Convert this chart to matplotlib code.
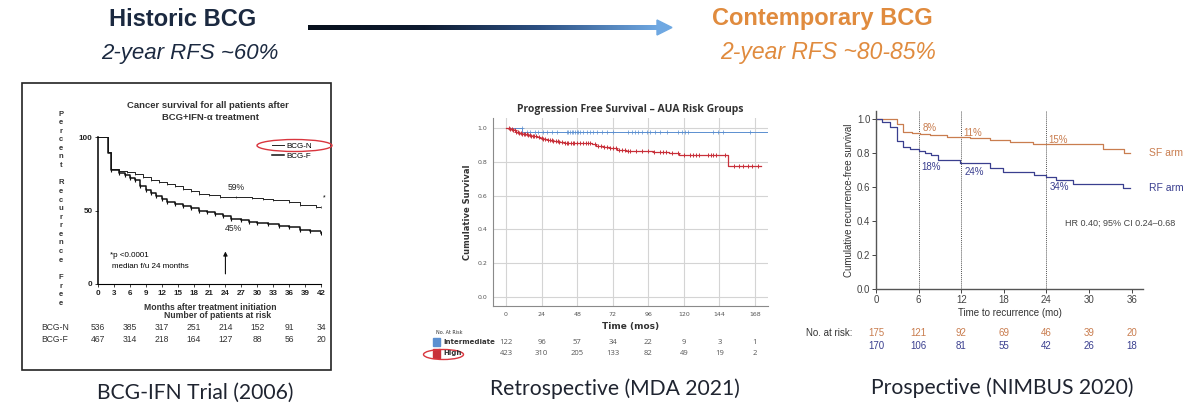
import numpy as np
import matplotlib.pyplot as plt
import matplotlib.transforms as mtransforms
from matplotlib.patches import Ellipse, Rectangle, Polygon
from matplotlib.colors import LinearSegmentedColormap

# ---------------- data ----------------
# BCG-IFN trial (months, percent recurrence free)
bcgn_t = [0, 1.8, 2.5, 4, 5.5, 7, 8.5, 10, 11.5, 13, 14.5, 16, 17.5, 19, 21, 23, 26, 29, 31, 33, 36, 38, 41, 42]
bcgn_s = [100, 90, 78, 77, 76, 74.5, 73, 71, 69.5, 68, 66.5, 64.5, 63, 61.5, 60.5, 59.5, 59, 58.5, 57.5, 57, 56, 53.5, 52.5, 52.5]
bcgf_t = [0, 1.8, 2.5, 4, 5, 6, 7, 8, 9, 10, 11, 12, 13, 14.5, 16, 17.5, 19, 20.5, 22, 23.5, 25, 27, 28.5, 30, 32, 34, 36, 38, 40, 42]
bcgf_s = [100, 89, 77.5, 75.5, 74, 72, 70.5, 67, 64, 62, 60, 58, 56, 54.5, 53, 51.5, 50, 49, 47.5, 46, 44.5, 43.5, 42.5, 41.5, 40.5, 39.5, 38.5, 37, 36, 35]
bcg_risk_t = [0, 6, 12, 18, 24, 30, 36, 42]
bcgn_risk = [536, 385, 317, 251, 214, 152, 91, 34]
bcgf_risk = [467, 314, 218, 164, 127, 88, 56, 20]

# MDA 2021 (months, cumulative survival)
high_t = [0, 3, 5, 7, 9, 11, 13, 15, 17, 19, 21, 23, 25, 28, 32, 36, 40, 48, 58, 61, 66, 70, 75, 81, 90, 99, 110, 117, 150, 172]
high_s = [1.0, 0.993, 0.985, 0.978, 0.972, 0.966, 0.962, 0.957, 0.953, 0.95, 0.946, 0.94, 0.932, 0.926, 0.922, 0.918,
          0.913, 0.91, 0.903, 0.89, 0.886, 0.881, 0.872, 0.866, 0.861, 0.857, 0.85, 0.84, 0.772, 0.772]
inter_t = [0, 11, 177]
inter_s = [1.0, 0.975, 0.975]
inter_cens = [10.6, 13.9, 16.2, 19.6, 21.8, 25.2, 27.4, 30.8, 34.2, 40.9, 42, 43.2, 44.3, 45.4, 46.5, 47.7, 48.8, 49.9,
              52.2, 54.4, 56.7, 58.9, 61.2, 64.6, 67.9, 72.4, 82.5, 84.8, 87, 89.3, 91.5, 94.9, 97.2, 100.5, 103.9,
              108.4, 116.3, 118.5, 120.8, 123, 139.9, 143.3, 146.6, 164.6]
high_cens = [2, 3, 4, 5, 6, 7, 8, 9, 10, 11, 12, 13, 14, 15, 16, 17, 18, 19, 20, 22, 24, 25, 26, 28, 30, 31, 32, 34,
             35, 36, 38, 40, 41, 42, 44, 45, 46, 48, 50, 52, 54, 55, 57, 60, 62, 64, 66, 68, 70, 72, 74, 76, 78, 80,
             82, 84, 88, 92, 96, 100, 104, 106, 108, 112, 116, 120, 124, 126, 128, 130, 136, 138, 140, 142, 148,
             154, 157, 160, 163, 166, 170]
mda_risk_t = [0, 24, 48, 72, 96, 120, 144, 168]
inter_risk = [122, 96, 57, 34, 22, 9, 3, 1]
high_risk = [423, 310, 205, 133, 82, 49, 19, 2]

# NIMBUS 2020 (months, recurrence-free survival)
sf_t = [0, 2.9, 3.85, 5.0, 6.2, 7.6, 9.95, 13.2, 16.1, 18.9, 22.1, 32, 34.9, 35.8]
sf_s = [1.0, 0.971, 0.927, 0.922, 0.916, 0.908, 0.894, 0.888, 0.878, 0.869, 0.855, 0.824, 0.80, 0.80]
rf_t = [0, 0.8, 2.0, 2.9, 3.85, 4.8, 6.0, 6.9, 7.8, 8.8, 11.8, 16, 17.9, 22.2, 24, 25.4, 27.8, 34.8, 35.8]
rf_s = [1.0, 0.986, 0.957, 0.873, 0.84, 0.824, 0.814, 0.804, 0.79, 0.76, 0.741, 0.712, 0.692, 0.673, 0.659, 0.643,
        0.62, 0.594, 0.594]
marks = [6, 12, 24]
sf_pct = ['8%', '11%', '15%']
rf_pct = ['18%', '24%', '34%']
nim_risk_t = [0, 6, 12, 18, 24, 30, 36]
sf_risk = [175, 121, 92, 69, 46, 39, 20]
rf_risk = [170, 106, 81, 55, 42, 26, 18]

W, H = 1200, 416
fig = plt.figure(figsize=(12, 4.16), dpi=100)


def box(l, r, t, b):
    return [l / W, 1 - b / H, (r - l) / W, (b - t) / H]


# overlay in pixel coords for slide-level text and shapes
ov = fig.add_axes([0, 0, 1, 1], zorder=10)
ov.set_xlim(0, W)
ov.set_ylim(H, 0)
ov.axis('off')
ov.patch.set_alpha(0)

navy = '#1b2940'
orange = '#e08b3e'
hfont = 'Liberation Sans'

# ---------------- header ----------------
ov.text(183, 19, 'Historic BCG', ha='center', va='center', fontsize=17, fontweight='bold', color=navy, family=hfont)
ov.text(190, 53, '2-year RFS ~60%', ha='center', va='center', fontsize=16, style='italic', color=navy, family=hfont)
ov.text(822, 19, 'Contemporary BCG', ha='center', va='center', fontsize=17, fontweight='bold', color=orange, family=hfont)
ov.text(828, 53, '2-year RFS ~80-85%', ha='center', va='center', fontsize=16.5, style='italic', color=orange, family=hfont)

cmap = LinearSegmentedColormap.from_list('arr', ['#07101c', '#0e1b30', '#2d5184', '#6fa8e2'])
ov.imshow(np.linspace(0, 1, 256)[None, :], cmap=cmap, extent=(308, 658, 30, 25), aspect='auto', zorder=2)
ov.add_patch(Polygon([(657, 20), (672, 27.5), (657, 35)], closed=True, color='#6fa8e2', zorder=2))
ov.set_xlim(0, W)
ov.set_ylim(H, 0)

# ---------------- captions ----------------
cap = dict(ha='center', va='center', fontsize=15.2, color='#1f2430', family='Lato')
ov.text(195, 393, 'BCG-IFN Trial (2006)', **cap)
ov.text(615, 389, 'Retrospective (MDA 2021)', **cap)
ov.text(1002, 388, 'Prospective (NIMBUS 2020)', **cap)

# ---------------- panel 1: BCG-IFN ----------------
ov.add_patch(Rectangle((22, 83), 309, 287, fill=False, edgecolor='#222222', lw=1.2))
ax1 = fig.add_axes(box(98, 321, 137, 284))
ax1.step(bcgn_t, bcgn_s, where='post', color='#222222', lw=0.7, label='BCG-N')
ax1.plot(bcgn_t[2:], bcgn_s[2:], ls='none', marker='|', ms=2, mew=0.5, color='#222222')
ax1.step(bcgf_t, bcgf_s, where='post', color='#111111', lw=1.1, label='BCG-F')
ax1.plot(bcgf_t[2:], bcgf_s[2:], ls='none', marker='|', ms=2.5, mew=0.8, color='#111111')
ax1.set_xlim(0, 42)
ax1.set_ylim(0, 100)
for s in ['top', 'right']:
    ax1.spines[s].set_visible(False)
ax1.spines['left'].set_linewidth(1.1)
ax1.spines['bottom'].set_linewidth(0.8)
ax1.set_xticks(np.arange(0, 43, 3))
ax1.set_yticks([0, 50, 100])
ax1.tick_params(labelsize=5.8, length=2.5, width=0.6, pad=1.5, colors='#222222')
for lab in ax1.get_xticklabels() + ax1.get_yticklabels():
    lab.set_family(hfont)
    lab.set_fontweight('bold')
ax1.patch.set_alpha(0)
ax1.legend(loc='upper left', bbox_to_anchor=(0.76, 0.99), frameon=False, handlelength=1.6,
           labelspacing=0.25, handletextpad=0.3, borderpad=0, prop={'family': hfont, 'size': 5.8})
ax1.text(26, 65.5, '59%', ha='center', va='center', fontsize=6.2, family=hfont, color='#222222')
ax1.text(25.5, 38, '45%', ha='center', va='center', fontsize=6.2, family=hfont, color='#222222')
ax1.text(42.6, 58.5, '*', ha='center', va='center', fontsize=5, family=hfont)
ax1.text(2.2, 19.3, '*p <0.0001', ha='left', va='center', fontsize=5.8, family=hfont)
ax1.text(2.6, 11.8, 'median f/u 24 months', ha='left', va='center', fontsize=5.8, family=hfont)
ax1.annotate('', xy=(24, 24), xytext=(24, 5),
             arrowprops=dict(arrowstyle='-|>', color='#111111', lw=0.8, mutation_scale=6))
ov.text(208, 106, 'Cancer survival for all patients after', ha='center', va='center', fontsize=6.8,
        fontweight='bold', family=hfont, color='#333333')
ov.text(210, 118, 'BCG+IFN-\u03b1 treatment', ha='center', va='center', fontsize=6.8,
        fontweight='bold', family=hfont, color='#333333')
for i, ch in enumerate('Percent Recurrence Free'):
    ov.text(61, 114 + i * 8.6, ch, ha='center', va='center', fontsize=5.5, fontweight='bold',
            family=hfont, color='#333333')
ov.text(210, 307, 'Months after treatment initiation', ha='center', va='center', fontsize=6.2,
        fontweight='bold', family=hfont, color='#333333')
ov.text(218, 316, 'Number of patients at risk', ha='center', va='center', fontsize=6.2,
        fontweight='bold', family=hfont, color='#333333')
tr1 = mtransforms.blended_transform_factory(ax1.transData, ov.transData)
ov.text(55, 327, 'BCG-N', ha='center', va='center', fontsize=6.2, family=hfont, color='#333333')
ov.text(55, 339, 'BCG-F', ha='center', va='center', fontsize=6.2, family=hfont, color='#333333')
for x, a, b in zip(bcg_risk_t, bcgn_risk, bcgf_risk):
    ax1.text(x, 327, str(a), transform=tr1, ha='center', va='center', fontsize=6.2, family=hfont,
             color='#333333', clip_on=False)
    ax1.text(x, 339, str(b), transform=tr1, ha='center', va='center', fontsize=6.2, family=hfont,
             color='#333333', clip_on=False)
ov.add_patch(Ellipse((294.5, 145.5), 75, 12, fill=False, edgecolor='#d9363e', lw=1.0))

# ---------------- panel 2: MDA ----------------
blue2, red2 = '#5b8fd0', '#c8303a'
ax2 = fig.add_axes(box(492.7, 768.3, 118, 306))
ax2.set_xlim(-9, 177)
ax2.set_ylim(-0.052, 1.058)
ax2.set_xticks(mda_risk_t)
ax2.set_yticks(np.arange(0, 1.01, 0.2))
ax2.set_yticklabels(['0.0', '0.2', '0.4', '0.6', '0.8', '1.0'])
ax2.grid(True, color='#d4d4d4', lw=0.8)
ax2.set_axisbelow(True)
for s in ['top', 'right']:
    ax2.spines[s].set_visible(False)
for s in ['left', 'bottom']:
    ax2.spines[s].set_color('#8a8a8a')
    ax2.spines[s].set_linewidth(0.8)
ax2.tick_params(length=0, labelsize=4.5, colors='#555555', pad=4)
ax2.step(inter_t, inter_s, where='post', color=blue2, lw=0.7)
ax2.step(high_t, high_s, where='post', color=red2, lw=0.9)
ic = np.array(inter_cens)
ax2.plot(ic, np.array(inter_s)[np.searchsorted(inter_t, ic, side='right') - 1], ls='none', marker='+',
         ms=3, mew=0.5, color=blue2)
hc = np.array(high_cens)
ax2.plot(hc, np.array(high_s)[np.searchsorted(high_t, hc, side='right') - 1], ls='none', marker='+',
         ms=3, mew=0.7, color=red2)
ax2.set_title('Progression Free Survival \u2013 AUA Risk Groups', fontsize=7.5, family='Open Sans',
              color='#333333', pad=4, fontweight='bold')
ax2.set_xlabel('Time (mos)', fontsize=6.5, fontweight='bold', color='#333333', labelpad=4)
ax2.set_ylabel('Cumulative Survival', fontsize=6, fontweight='bold', color='#333333', labelpad=4)
tr2 = mtransforms.blended_transform_factory(ax2.transData, ov.transData)
ov.text(436, 332, 'No. At Risk', ha='left', va='center', fontsize=3.5, color='#333333')
ov.add_patch(Rectangle((432.5, 337.5), 7.5, 8.5, color=blue2))
ov.add_patch(Rectangle((432.5, 349), 7.5, 8.5, color=red2))
ov.text(443, 342, 'Intermediate', ha='left', va='center', fontsize=5, fontweight='bold', color='#333333')
ov.text(443, 353.5, 'High', ha='left', va='center', fontsize=5, fontweight='bold', color='#333333')
for x, a, b in zip(mda_risk_t, inter_risk, high_risk):
    ax2.text(x, 342, str(a), transform=tr2, ha='center', va='center', fontsize=5.5, color='#555555',
             clip_on=False, family='Open Sans')
    ax2.text(x, 353.5, str(b), transform=tr2, ha='center', va='center', fontsize=5.5, color='#555555',
             clip_on=False, family='Open Sans')
ov.add_patch(Ellipse((443.5, 354.5), 40, 10, fill=False, edgecolor='#d9363e', lw=1.0))

# ---------------- panel 3: NIMBUS ----------------
org3, blu3 = '#c97d4f', '#3a3f8f'
ax3 = fig.add_axes(box(876, 1143, 110.8, 289.3))
ax3.set_xlim(0, 37.6)
ax3.set_ylim(0, 1.05)
for s in ['top', 'right']:
    ax3.spines[s].set_visible(False)
for s in ['left', 'bottom']:
    ax3.spines[s].set_color('#555555')
    ax3.spines[s].set_linewidth(1.0)
ax3.set_xticks(nim_risk_t)
ax3.set_yticks(np.arange(0, 1.01, 0.2))
ax3.set_yticklabels(['0.0', '0.2', '0.4', '0.6', '0.8', '1.0'])
ax3.tick_params(labelsize=7, length=3, width=0.7, pad=1, colors='#444444')
for lab in ax3.get_xticklabels() + ax3.get_yticklabels():
    lab.set_family(hfont)
for m in marks:
    ax3.axvline(m, color='#555555', ls=(0, (1, 1)), lw=0.7)
ax3.step(sf_t, sf_s, where='post', color=org3, lw=0.9)
ax3.step(rf_t, rf_s, where='post', color=blu3, lw=0.9)
for m, a, b, ya, yb in zip(marks, sf_pct, rf_pct, [0.951, 0.92, 0.878], [0.718, 0.692, 0.604]):
    ax3.text(m + 1.6, ya, a, ha='center', va='center', fontsize=7, color=org3, family=hfont)
    ax3.text(m + 1.8, yb, b, ha='center', va='center', fontsize=7, color=blu3, family=hfont)
ax3.text(40.9, 0.804, 'SF arm', ha='center', va='center', fontsize=7.5, color=org3, family=hfont, clip_on=False)
ax3.text(40.9, 0.594, 'RF arm', ha='center', va='center', fontsize=7.5, color=blu3, family=hfont, clip_on=False)
ax3.text(34.4, 0.388, 'HR 0.40; 95% CI 0.24\u20130.68', ha='center', va='center', fontsize=6.5,
         color='#444444', family=hfont, clip_on=False)
ax3.set_xlabel('Time to recurrence (mo)', fontsize=7, color='#333333', family=hfont, labelpad=2)
ax3.set_ylabel('Cumulative recurrence-free survival', fontsize=7, color='#333333', family=hfont, labelpad=2)
tr3 = mtransforms.blended_transform_factory(ax3.transData, ov.transData)
ov.text(852, 333, 'No. at risk:', ha='right', va='center', fontsize=7, color='#333333', family=hfont)
for x, a, b in zip(nim_risk_t, sf_risk, rf_risk):
    ax3.text(x, 333, str(a), transform=tr3, ha='center', va='center', fontsize=7, color=org3,
             clip_on=False, family=hfont)
    ax3.text(x, 346, str(b), transform=tr3, ha='center', va='center', fontsize=7, color=blu3,
             clip_on=False, family=hfont)

fig.savefig('out.png', dpi=100)
